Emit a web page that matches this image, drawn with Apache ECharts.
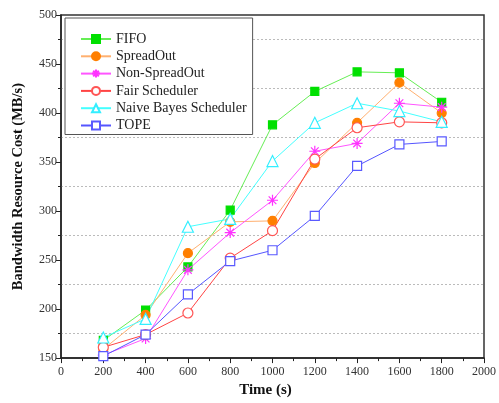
<!DOCTYPE html>
<html><head><meta charset="utf-8">
<script src="https://cdn.jsdelivr.net/npm/echarts@6/dist/echarts.min.js"></script>
<style>html,body{margin:0;padding:0;background:#fff}#c{width:499px;height:403px}</style>
</head><body><div id="c"></div>
<script>
const times = [200, 400, 600, 800, 1000, 1200, 1400, 1600, 1800];
const fifo = [168, 199, 243, 301, 388, 422, 442, 441, 411];
const spreadOut = [159, 194, 257, 289, 290, 349, 390, 431, 400];
const nonSpreadOut = [153, 170, 240, 278, 311, 361, 369, 410, 406];
const fairScheduler = [161, 174, 196, 252, 280, 353, 385, 391, 390];
const naiveBayes = [171, 190, 284, 292, 351, 390, 410, 402, 391];
const tope = [152, 174, 215, 249, 260, 295, 346, 368, 371];

const seriesDefs = [
  {name:'FIFO', data:fifo, line:'#66ee55', mark:'#00e000', symbol:'rect', fill:true, size:8},
  {name:'SpreadOut', data:spreadOut, line:'#ffb070', mark:'#ff7f00', symbol:'circle', fill:true, size:9},
  {name:'Non-SpreadOut', data:nonSpreadOut, line:'#ff55ff', mark:'#ff33ff', symbol:'path://M0,-5L0,5M-5,0L5,0M-3.5,-3.5L3.5,3.5M-3.5,3.5L3.5,-3.5', fill:false, size:11},
  {name:'Fair Scheduler', data:fairScheduler, line:'#ff4444', mark:'#ff5555', symbol:'circle', fill:false, size:10},
  {name:'Naive Bayes Scheduler', data:naiveBayes, line:'#44ffff', mark:'#33eeff', symbol:'triangle', fill:false, size:11},
  {name:'TOPE', data:tope, line:'#5555ff', mark:'#5a5aff', symbol:'rect', fill:false, size:9}
];

const serif = '"Liberation Serif","Times New Roman",serif';
const chart = echarts.init(document.getElementById('c'));
chart.setOption({
  animation:false,
  backgroundColor:'#fff',
  grid:{left:61,right:13,top:15,bottom:42,show:true,borderColor:'#333',borderWidth:1.5,backgroundColor:'transparent'},
  legend:{
    show:true, orient:'vertical', left:65, top:18, itemWidth:30, itemHeight:10, itemGap:3.3,
    padding:[14,6,2,15], borderColor:'#555', borderWidth:1, backgroundColor:'#fff',
    textStyle:{fontFamily:serif,fontSize:14,color:'#222'},
    data:seriesDefs.map(s=>s.name)
  },
  xAxis:{
    type:'value', min:0, max:2000, interval:200,
    name:'Time (s)', nameLocation:'middle', nameGap:23,
    nameTextStyle:{fontFamily:serif,fontSize:15,fontWeight:'bold',color:'#111',padding:[0,14,0,0]},
    axisLine:{lineStyle:{color:'#222',width:1.5}},
    axisTick:{show:true,inside:false,length:5,lineStyle:{color:'#222'}},
    minorTick:{show:true,splitNumber:2,length:3,lineStyle:{color:'#222'}},
    axisLabel:{fontFamily:serif,fontSize:12,color:'#333',margin:8,formatter:v=>String(v)},
    splitLine:{show:false}
  },
  yAxis:{
    type:'value', min:150, max:500, interval:50,
    name:'Bandwidth Resource Cost (MB/s)', nameLocation:'middle', nameGap:35,
    nameTextStyle:{fontFamily:serif,fontSize:14.5,fontWeight:'bold',color:'#111'},
    axisLine:{show:true,lineStyle:{color:'#222',width:1.5}},
    axisTick:{show:true,inside:false,length:5,lineStyle:{color:'#222'}},
    minorTick:{show:true,splitNumber:2,length:3,lineStyle:{color:'#222'}},
    axisLabel:{fontFamily:serif,fontSize:12,color:'#333',margin:4,formatter:v=>String(v)},
    splitLine:{show:false},
    minorSplitLine:{show:true,lineStyle:{color:'#bbb',type:[2,2],width:1}}
  },
  series:seriesDefs.map(s=>({
    name:s.name, type:'line', data:times.map((t,i)=>[t,s.data[i]]),
    symbol:s.symbol, symbolSize:s.size, showSymbol:true,
    lineStyle:{color:s.line,width:1},
    itemStyle:{color:s.fill?s.mark:'#fff',borderColor:s.mark,borderWidth:1.2},
    emphasis:{disabled:true}
  }))
});
</script></body></html>
